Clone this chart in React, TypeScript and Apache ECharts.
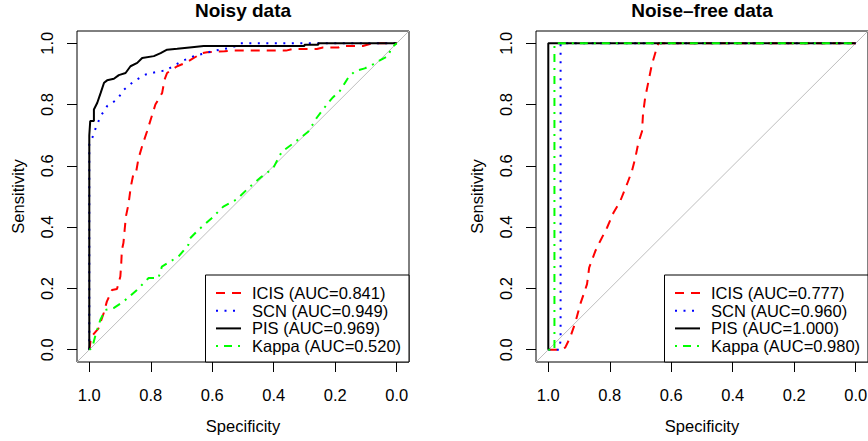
import React, { useEffect, useRef } from "react";
import * as echarts from "echarts";

// ---------- data ----------
const panelTitles = ["Noisy data", "Noise–free data"];
const xAxisName = "Specificity";
const yAxisName = "Sensitivity";
const tickValues = [0, 0.2, 0.4, 0.6, 0.8, 1.0];
const seriesNames = ["ICIS", "SCN", "PIS", "Kappa"];
const aucNoisy = ["0.841", "0.949", "0.969", "0.520"];
const aucFree = ["0.777", "0.960", "1.000", "0.980"];

// Noisy data panel
const icisNoisySpec = [1, 0.997, 0.995, 0.97, 0.953, 0.943, 0.926, 0.91, 0.899, 0.896, 0.894, 0.889, 0.885, 0.881, 0.872, 0.865, 0.856, 0.848, 0.84, 0.827, 0.812, 0.785, 0.763, 0.755, 0.747, 0.731, 0.714, 0.687, 0.66, 0.633, 0.617, 0.56, 0.54, 0.36, 0.34, 0.26, 0.24, 0.19, 0.18, 0.11, 0.08, 0];
const icisNoisySens = [0, 0.02, 0.04, 0.07, 0.12, 0.157, 0.195, 0.198, 0.239, 0.283, 0.326, 0.348, 0.391, 0.434, 0.478, 0.532, 0.576, 0.578, 0.624, 0.668, 0.713, 0.8, 0.838, 0.882, 0.903, 0.914, 0.925, 0.936, 0.952, 0.968, 0.971, 0.974, 0.976, 0.976, 0.981, 0.981, 0.986, 0.986, 0.991, 0.991, 1, 1];
const scnNoisySpec = [1, 1, 0.99, 0.979, 0.963, 0.942, 0.909, 0.887, 0.855, 0.817, 0.779, 0.752, 0.72, 0.693, 0.66, 0.634, 0.591, 0.542, 0.525, 0.51, 0];
const scnNoisySens = [0, 0.67, 0.692, 0.724, 0.762, 0.795, 0.817, 0.849, 0.876, 0.898, 0.907, 0.911, 0.93, 0.944, 0.958, 0.965, 0.976, 0.985, 0.99, 1, 1];
const pisNoisySpec = [1, 1, 0.997, 0.985, 0.985, 0.974, 0.963, 0.952, 0.942, 0.92, 0.904, 0.882, 0.866, 0.844, 0.828, 0.79, 0.768, 0.747, 0.714, 0.666, 0.628, 0.3, 0.3, 0.255, 0.255, 0];
const pisNoisySens = [0, 0.7, 0.746, 0.746, 0.784, 0.806, 0.838, 0.871, 0.879, 0.884, 0.896, 0.903, 0.925, 0.936, 0.952, 0.958, 0.968, 0.979, 0.982, 0.987, 0.991, 0.991, 0.995, 0.995, 1, 1];
const kappaNoisySpec = [1, 0.991, 0.981, 0.964, 0.948, 0.921, 0.889, 0.845, 0.807, 0.775, 0.764, 0.737, 0.71, 0.678, 0.672, 0.645, 0.602, 0.564, 0.52, 0.483, 0.439, 0.402, 0.374, 0.337, 0.288, 0.26, 0.223, 0.207, 0.185, 0.158, 0.136, 0.104, 0.077, 0.055, 0.028, 0.017, 0];
const kappaNoisySens = [0, 0.005, 0.043, 0.098, 0.13, 0.136, 0.157, 0.195, 0.234, 0.234, 0.271, 0.288, 0.304, 0.342, 0.364, 0.391, 0.429, 0.467, 0.491, 0.527, 0.565, 0.592, 0.646, 0.673, 0.711, 0.757, 0.806, 0.824, 0.844, 0.887, 0.909, 0.918, 0.931, 0.944, 0.958, 0.985, 1];

// Noise-free data panel
const icisFreeSpec = [1, 0.96, 0.945, 0.929, 0.912, 0.896, 0.885, 0.874, 0.867, 0.847, 0.831, 0.809, 0.788, 0.766, 0.744, 0.728, 0.717, 0.707, 0.695, 0.692, 0.685, 0.674, 0.663, 0.647, 0.642, 0];
const icisFreeSens = [0, 0, 0.007, 0.04, 0.089, 0.149, 0.181, 0.214, 0.268, 0.322, 0.355, 0.398, 0.447, 0.485, 0.54, 0.583, 0.626, 0.675, 0.713, 0.768, 0.822, 0.876, 0.931, 0.985, 1, 1];
const scnFreeSpec = [1, 0.965, 0.96, 0.96, 0];
const scnFreeSens = [0, 0, 0.03, 1, 1];
const pisFreeSpec = [1, 1, 0];
const pisFreeSens = [0, 1, 1];
const kappaFreeSpec = [1, 0.98, 0.98, 0];
const kappaFreeSens = [0, 0, 1, 1];

// ---------- styles ----------
const FONT = "'Liberation Sans', Arial, Helvetica, sans-serif";
const FS = 16.5;
const colors = ["#FF0000", "#0000FF", "#000000", "#00FF00"];
const dashes: number[][] = [[9, 7], [2, 6.5], [], [2, 6, 8, 6]];
const panelLeft = [77, 536];
const panelTop = 31;
const panelW = 332;
const panelH = 331;

const pairs = (xs: number[], ys: number[]) => xs.map((x, i) => [x, ys[i]]);

export default function App() {
  const ref = useRef<HTMLDivElement>(null);
  useEffect(() => {
    if (!ref.current) return;
    const chart = echarts.init(ref.current, undefined, { renderer: "svg" });

    const panels = [
      {
        data: [
          pairs(icisNoisySpec, icisNoisySens),
          pairs(scnNoisySpec, scnNoisySens),
          pairs(pisNoisySpec, pisNoisySens),
          pairs(kappaNoisySpec, kappaNoisySens),
        ],
        auc: aucNoisy,
      },
      {
        data: [
          pairs(icisFreeSpec, icisFreeSens),
          pairs(scnFreeSpec, scnFreeSens),
          pairs(pisFreeSpec, pisFreeSens),
          pairs(kappaFreeSpec, kappaFreeSens),
        ],
        auc: aucFree,
      },
    ];

    const grids = panelLeft.map((l) => ({
      left: l,
      top: panelTop,
      width: panelW,
      height: panelH,
      containLabel: false,
      outerBoundsMode: "none",
      show: true,
      borderColor: "#000",
      borderWidth: 1,
      backgroundColor: "transparent",
    }));

    const textBase = { color: "#000", fontFamily: FONT, fontSize: FS };

    const xAxes = panelLeft.map((_, i) => ({
      gridIndex: i,
      type: "value",
      position: "bottom",
      inverse: true,
      min: -0.04,
      max: 1.04,
      axisLine: { show: false, onZero: false },
      splitLine: { show: false },
      axisTick: {
        show: true,
        inside: false,
        length: 10,
        customValues: tickValues,
        lineStyle: { color: "#000", width: 1 },
      },
      axisLabel: {
        customValues: tickValues,
        formatter: (v: number) => v.toFixed(1),
        margin: 24,
        hideOverlap: false,
        ...textBase,
      },
      name: xAxisName,
      nameLocation: "middle",
      nameGap: 55,
      nameTextStyle: { ...textBase },
    }));

    const yAxes = panelLeft.map((_, i) => ({
      gridIndex: i,
      type: "value",
      position: "left",
      min: -0.04,
      max: 1.04,
      axisLine: { show: false, onZero: false },
      splitLine: { show: false },
      axisTick: {
        show: true,
        inside: false,
        length: 10,
        customValues: tickValues,
        lineStyle: { color: "#000", width: 1 },
      },
      axisLabel: {
        customValues: tickValues,
        formatter: (v: number) => v.toFixed(1),
        rotate: 90,
        margin: 22,
        ...textBase,
      },
      name: yAxisName,
      nameLocation: "middle",
      nameGap: 51,
      nameTextStyle: { ...textBase },
    }));

    const series: any[] = [];
    panels.forEach((p, i) => {
      series.push({
        type: "line",
        xAxisIndex: i,
        yAxisIndex: i,
        data: [
          [1.04, -0.04],
          [-0.04, 1.04],
        ],
        symbol: "none",
        silent: true,
        lineStyle: { color: "#BEBEBE", width: 1 },
        z: 1,
      });
      p.data.forEach((d, k) => {
        series.push({
          type: "line",
          name: seriesNames[k],
          xAxisIndex: i,
          yAxisIndex: i,
          data: d,
          symbol: "none",
          silent: true,
          clip: true,
          itemStyle: { color: colors[k] },
          lineStyle: {
            color: colors[k],
            width: 2,
            type: dashes[k].length ? dashes[k] : "solid",
            cap: "butt",
          },
          z: 2 + k,
        });
      });
    });

    const graphic: any[] = [];
    panels.forEach((p, i) => {
      const cx = panelLeft[i] + panelW / 2;
      graphic.push({
        type: "text",
        z: 100,
        x: cx,
        y: 10,
        style: {
          text: panelTitles[i],
          font: `bold 19px ${FONT}`,
          fill: "#000",
          align: "center",
          verticalAlign: "middle",
        },
      });
      const lw = 203.5;
      const lh = 87;
      const lx = panelLeft[i] + panelW - lw;
      const ly = panelTop + panelH - lh;
      const children: any[] = [
        {
          type: "rect",
          shape: { x: 0, y: 0, width: lw, height: lh },
          style: { fill: "#fff", stroke: "#000", lineWidth: 1 },
        },
      ];
      seriesNames.forEach((nm, k) => {
        const ry = 18 + k * 17.7;
        children.push({
          type: "line",
          shape: { x1: 10.5, y1: ry, x2: 35.5, y2: ry },
          style: {
            stroke: colors[k],
            lineWidth: 2,
            lineDash: dashes[k].length ? dashes[k] : null,
            lineCap: "butt",
          },
        });
        children.push({
          type: "text",
          x: 46.5,
          y: ry,
          style: {
            text: `${nm} (AUC=${p.auc[k]})`,
            font: `${FS}px ${FONT}`,
            fill: "#000",
            align: "left",
            verticalAlign: "middle",
          },
        });
      });
      graphic.push({ type: "group", x: lx, y: ly, z: 100, children });
    });

    chart.setOption({
      animation: false,
      backgroundColor: "#fff",
      grid: grids,
      xAxis: xAxes,
      yAxis: yAxes,
      series,
      graphic,
    });
    return () => chart.dispose();
  }, []);
  return (
    <div
      ref={ref}
      style={{ position: "fixed", left: 0, top: 0, width: 868, height: 441 }}
    />
  );
}
